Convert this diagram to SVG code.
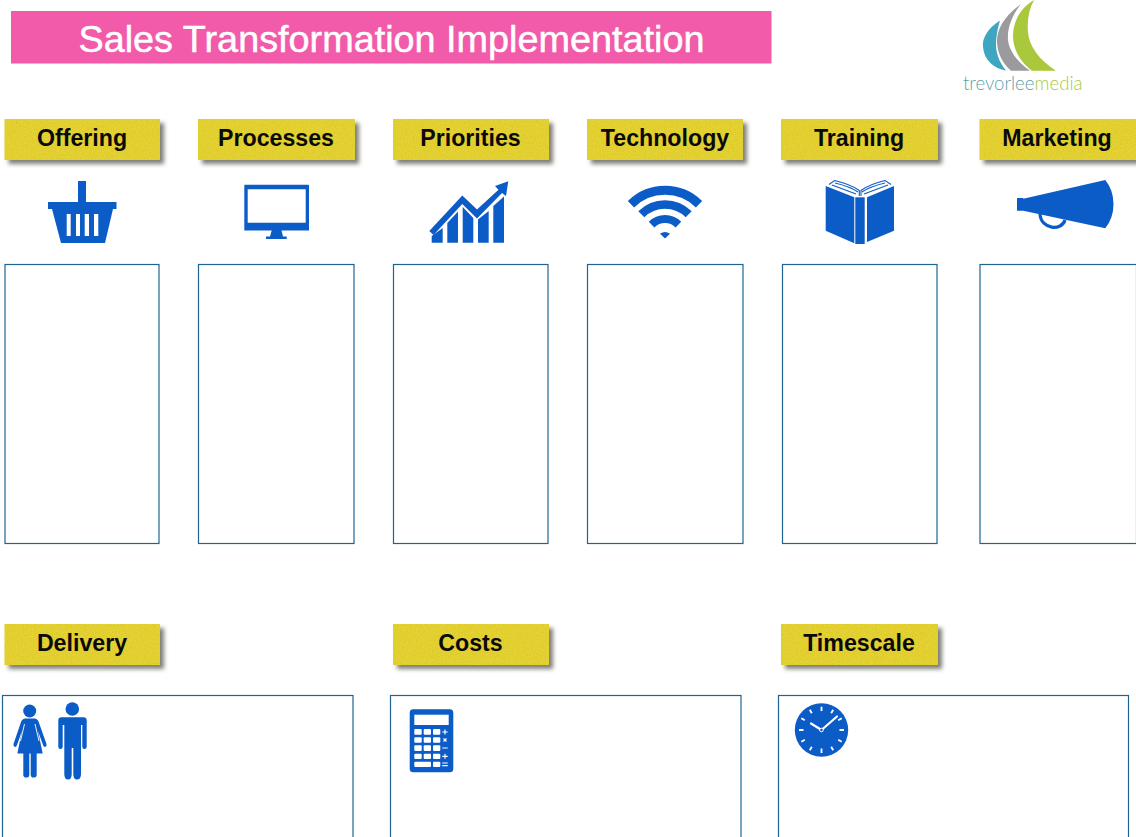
<svg xmlns="http://www.w3.org/2000/svg" width="1136" height="837" viewBox="0 0 1136 837">
<style>
.lab{fill:#e6d336;filter:url(#sh)}
.lt{font-family:"Liberation Sans",Arial,sans-serif;font-weight:700;font-size:23.2px;fill:#0a0a0a;text-anchor:middle}
.box{fill:#fff;stroke:#1f6491;stroke-width:1.2}
.ic{fill:#0c5cc8}
.ln{fill:none;stroke:#0c5cc8}
.w{fill:#fff}
</style>
<defs>
<filter id="sh" x="-5%" y="-15%" width="115%" height="140%">
<feTurbulence type="fractalNoise" baseFrequency="0.9" numOctaves="2" seed="4" result="n"/>
<feColorMatrix in="n" type="matrix" values="0 0 0 0 0.5  0 0 0 0 0.42  0 0 0 0 0  0 0 0 0.7 -0.25" result="t"/>
<feComposite in="t" in2="SourceAlpha" operator="in" result="ti"/>
<feGaussianBlur in="SourceAlpha" stdDeviation="2" result="b"/>
<feOffset in="b" dx="4" dy="4" result="o"/>
<feFlood flood-color="#55554a" flood-opacity=".75"/>
<feComposite in2="o" operator="in" result="s"/>
<feMerge><feMergeNode in="s"/><feMergeNode in="SourceGraphic"/><feMergeNode in="ti"/></feMerge>
</filter>
</defs>
<rect width="1136" height="837" fill="#fff"/>
<g id="title">
<rect x="11" y="11" width="760.5" height="52.5" fill="#f15ba9"/>
<text x="391.5" y="52" font-family="'Liberation Sans',Arial,sans-serif" font-size="37.8" fill="#fff" stroke="#fff" stroke-width=".5" text-anchor="middle">Sales Transformation Implementation</text>
</g>
<g id="logo">
<path fill="#3ea6c0" d="M1000 20.5C988 28 982 38 983 47C984 60 994 69 1006 70.500C999 62 995.500 52 996 42C996.500 34 998 27 1000 20.5Z"/>
<path fill="#9b9b9d" d="M1021 4C1004 16 996.500 30 997 42C997.500 54 1003 64 1011 70.7L1030 70.7C1017 62 1009 50 1008 40C1007 27 1013 14 1021 4Z"/>
<path fill="#a9c83c" d="M1034 0C1020 8 1013 22 1013 36C1013 50 1021 63 1032 70.7L1056 70.7C1039 60 1029 46 1028 32C1027 20 1029 9 1034 0Z"/>
<text x="963" y="90" font-family="Lato,'Open Sans',sans-serif" font-weight="300" font-size="18.6" fill="#5d9fa8">trevorlee<tspan fill="#a9c83c">media</tspan></text>
</g>

<g id="offering">
<rect class="lab" x="4.5" y="119" width="155.5" height="41"/><text class="lt" x="82" y="146">Offering</text>
<g class="ic"><rect x="78" y="181" width="8" height="22"/><rect x="48" y="202" width="68.500" height="7"/>
<path fill-rule="evenodd" d="M52 209H113L105 243H61ZM66.700 214V236H70.700V214ZM76 214V236H80V214ZM84.700 214V236H89V214ZM94 214V236H98.300V214Z"/></g>
<rect class="box" x="5" y="264.500" width="154" height="279"/>
</g>

<g id="processes">
<rect class="lab" x="198" y="119" width="157" height="41"/><text class="lt" x="276" y="146">Processes</text>
<path class="ic" fill-rule="evenodd" d="M245 184.700H308.300Q309 184.700 309 185.500V230.500H281.500L283 236.500H286.700V239H266V236.500H270L271.700 230.500H244.300V185.500Q244.300 184.700 245 184.700ZM247.700 189.300V222.700H305.700V189.300Z"/>
<rect class="box" x="198.500" y="264.500" width="155.500" height="279"/>
</g>

<g id="priorities">
<rect class="lab" x="393" y="119" width="156" height="41"/><text class="lt" x="470.500" y="146">Priorities</text>
<g class="ic">
<path d="M431.700 242.700V236L442.700 228V242.700Z"/>
<path d="M447.300 242.700V223L458 211.500V242.700Z"/>
<path d="M462.700 242.700V207L473.300 218V242.700Z"/>
<path d="M478 242.700V219.500L488.700 211V242.700Z"/>
<path d="M493.300 242.700V206L504 196.500V242.700Z"/>
<path d="M429.300 231L462.300 195.500L477 209.500L498.500 189.800L495 186L508.300 181.300L506 196L502 193L477 218.500L462.300 204L433.500 235Z"/>
</g>
<rect class="box" x="393.500" y="264.500" width="154.500" height="279"/>
</g>

<g id="technology">
<rect class="lab" x="587" y="119" width="156" height="41"/><text class="lt" x="665" y="146">Technology</text>
<g class="ln">
<path stroke-width="9" d="M631 204.200A48.500 48.500 0 0 1 699 204.200"/>
<path stroke-width="8.500" d="M641.300 214.300A33.500 33.500 0 0 1 688.700 214.300"/>
<path stroke-width="8" d="M651.600 224.600A19 19 0 0 1 678.400 224.600"/>
</g>
<path class="ic" d="M660 233.700Q665 230.300 670 233.700L665 238.500Z"/>
<rect class="box" x="587.500" y="264.500" width="155.500" height="279"/>
</g>

<g id="training">
<rect class="lab" x="781" y="119" width="157" height="41"/><text class="lt" x="859" y="146">Training</text>
<g class="ic">
<path d="M825.700 186L854.300 197.300V243.300L825.700 230.700Z"/>
<rect x="855.300" y="197.300" width="9.400" height="46.700"/>
<path d="M867 197.300L894 186V230.700L867 242Z"/>
</g>
<g class="ln" stroke-width="1.100">
<path d="M829 184.500L834.500 180.500Q850 184 859.300 190.500V196"/><path d="M832 185L856 194"/>
<path d="M891 184.500L885 180.500Q870 184 861 190.500V196"/><path d="M888 185L864 194"/>
<path d="M835 183Q850 186.500 858 192"/><path d="M885 183Q870 186.500 862 192"/>
</g>
<rect class="box" x="782.500" y="264.500" width="154.500" height="279"/>
</g>

<g id="marketing">
<rect class="lab" x="979.500" y="119" width="157" height="41"/><text class="lt" x="1057" y="146">Marketing</text>
<path class="ic" d="M1017 198H1023.300V198.700L1105.300 180Q1113.500 190 1113.500 204.300Q1113.500 218 1105.300 228.300L1023.300 210.700H1017Z"/>
<path class="ln" stroke-width="3.200" d="M1040 214C1041 230 1062 231 1065 220"/>
<rect class="box" x="980" y="264.500" width="156.500" height="279"/>
</g>

<g id="delivery">
<rect class="lab" x="4.500" y="624" width="155.500" height="41"/><text class="lt" x="82" y="651">Delivery</text>
<rect class="box" x="2.500" y="695.500" width="350.500" height="145"/>
<g class="ic">
<circle cx="29.700" cy="711" r="6.500"/>
<path d="M25.500 718.500H34.500Q37.500 718.500 38.700 722L46.500 744Q47 746.500 45 747 43.500 747 43 745L38 731L42.700 753.500H17.300L22 731L17 745Q16.500 747 15 747 13 746.500 13.500 744L21 722Q22.300 718.500 25.500 718.500Z"/>
<rect x="23.300" y="750" width="6" height="27.500" rx="2.800"/><rect x="30.700" y="750" width="6" height="27.500" rx="2.800"/>
<circle cx="72.300" cy="709" r="6.800"/>
<path d="M61.500 717.300H83.500Q86.700 717.300 86.700 720.500V747Q86.700 749 84.500 749 82.300 749 82.300 747V725H81V774Q81 779.500 77 779.500 73.300 779.500 73.300 774V748H71.700V774Q71.700 779.500 68 779.500 64.300 779.500 64.300 774V725H62.700V747Q62.700 749 60.500 749 58.300 749 58.300 747V720.500Q58.300 717.300 61.500 717.300Z"/>
</g>
<path fill="none" stroke="#fff" stroke-width=".9" d="M24.500 724L20.500 741M35 724L39 741"/>
</g>

<g id="costs">
<rect class="lab" x="393" y="624" width="156" height="41"/><text class="lt" x="470.500" y="651">Costs</text>
<rect class="box" x="390.500" y="695.500" width="350.500" height="145"/>
<rect class="ic" x="409.700" y="709.300" width="43.600" height="63" rx="3.500"/>
<g class="w">
<rect x="414.300" y="714.700" width="34.400" height="10.300"/>
<rect x="414.300" y="729" width="7.400" height="5.700" rx="1"/><rect x="423.700" y="729" width="7.300" height="5.700" rx="1"/><rect x="433" y="729" width="7.300" height="5.700" rx="1"/>
<rect x="414.300" y="737.300" width="7.400" height="5.400" rx="1"/><rect x="423.700" y="737.300" width="7.300" height="5.400" rx="1"/><rect x="433" y="737.300" width="7.300" height="5.400" rx="1"/>
<rect x="414.300" y="745.300" width="7.400" height="5.700" rx="1"/><rect x="423.700" y="745.300" width="7.300" height="5.700" rx="1"/><rect x="433" y="745.300" width="7.300" height="5.700" rx="1"/>
<rect x="414.300" y="753.700" width="7.400" height="5.300" rx="1"/><rect x="423.700" y="753.700" width="7.300" height="5.300" rx="1"/><rect x="433" y="753.700" width="7.300" height="5.300" rx="1"/>
<rect x="414.300" y="761.700" width="16.700" height="5.300" rx="1"/><rect x="433" y="761.700" width="7.300" height="5.300" rx="1"/>
</g>
<path fill="none" stroke="#fff" stroke-width="1.200" d="M442.300 732H447.700M445 729.500V734.500M443.500 738.500L446.500 741.500M446.500 738.500L443.500 741.500M442.300 748H447.700M442.300 756.300H447.700M445 753.800V758.800M442.300 763H447.700M442.300 765.700H447.700"/>
</g>

<g id="timescale">
<rect class="lab" x="781" y="624" width="157" height="41"/><text class="lt" x="859" y="651">Timescale</text>
<rect class="box" x="778.500" y="695.500" width="350" height="145"/>
<circle class="ic" cx="821.500" cy="730" r="26.700"/>
<g fill="none" stroke="#fff">
<path stroke-width="1.800" d="M821.500 706.700V711M821.500 748.500V753M799 730H803.500M839.500 730H844M809.800 709.800L811.800 713.300M831.200 746.700L833.200 750.200M801.300 718.300L804.800 720.300M838.200 739.700L841.700 741.700M801.300 741.700L804.800 739.700M838.200 720.300L841.700 718.300M809.800 750.200L811.800 746.700M831.200 713.300L833.200 709.800"/>
<path stroke-width="2.200" stroke-linecap="round" d="M821.500 730L811 723.500M821.500 730L837 716.500"/>
</g>
<circle cx="821.500" cy="730" r="1.800" fill="#0c5cc8" stroke="#fff" stroke-width="1"/>
</g>
</svg>
